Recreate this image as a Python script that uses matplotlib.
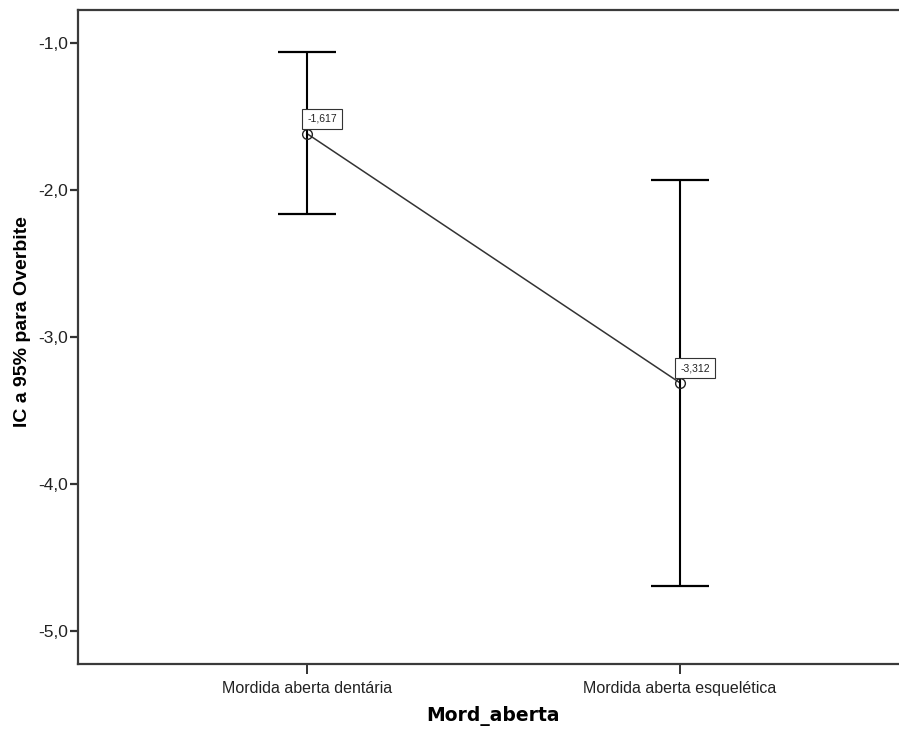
import matplotlib
matplotlib.use("Agg")
import matplotlib.pyplot as plt
import numpy as np

# Means and 95% confidence intervals of Overbite per open-bite group
categories = ["Mordida aberta dentária", "Mordida aberta esquelética"]
means = [-1.617, -3.312]
ci_lower = [-2.163, -4.694]
ci_upper = [-1.063, -1.932]
mean_labels = ["-1,617", "-3,312"]
yticks = [-1.0, -2.0, -3.0, -4.0, -5.0]
ytick_labels = ["-1,0", "-2,0", "-3,0", "-4,0", "-5,0"]

W, H = 899, 731
fig = plt.figure(figsize=(W / 100, H / 100), dpi=100)
ax = fig.add_axes([78 / W, (H - 664) / H, (W - 78) / W, (664 - 10) / H])

x = np.arange(len(categories))
means_a = np.array(means)
yerr = np.vstack([means_a - np.array(ci_lower), np.array(ci_upper) - means_a])

# Line joining the means
ax.plot(x, means_a, color="#333333", lw=1.1, zorder=2)
# Confidence interval bars
ax.errorbar(x, means_a, yerr=yerr, fmt="none", ecolor="black",
            elinewidth=1.5, capsize=21, capthick=1.6, zorder=3)
# Mean markers
ax.plot(x, means_a, ls="none", marker="o", ms=7, mfc="none",
        mec="#222222", mew=1.0, zorder=4)

for xi, m, lab in zip(x, means, mean_labels):
    ax.annotate(lab, (xi, m), xytext=(0.15, 7.0), textcoords="offset points",
                ha="left", va="bottom", fontsize=7.5, family="Liberation Sans",
                color="#222222",
                bbox=dict(boxstyle="square,pad=0.5", fc="white",
                          ec="#333333", lw=0.8), zorder=5)

ax.set_xlim(-0.614, 1.587)
ax.set_ylim(-5.224, -0.776)
ax.set_xticks(x)
ax.set_xticklabels(categories, fontsize=11.5, family="Liberation Sans",
                   color="#222222")
ax.set_yticks(yticks)
ax.set_yticklabels(ytick_labels, fontsize=12.5, family="Liberation Sans",
                   color="#222222")
ax.tick_params(axis="y", length=6, width=1.6, color="#333333", pad=1)
ax.tick_params(axis="x", length=7, width=1.4, color="#333333", pad=5)

ax.spines["right"].set_visible(False)
for s in ["left", "top", "bottom"]:
    ax.spines[s].set_color("#3a3a3a")
    ax.spines[s].set_linewidth(1.6)

ax.set_ylabel("IC a 95% para Overbite", fontsize=14, fontweight="bold",
              family="Liberation Sans", color="black")
ax.yaxis.set_label_coords((31 - 78) / 821, (664 - 322) / 654)
ax.set_xlabel("Mord_aberta", fontsize=13.5, fontweight="bold",
              family="DejaVu Sans", color="black")
ax.xaxis.set_label_coords((493 - 78) / 821, -(706 - 664) / 654)

fig.savefig("out.png", dpi=100)
